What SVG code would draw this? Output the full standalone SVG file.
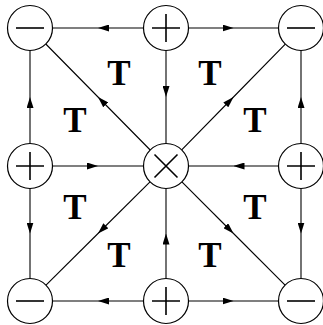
<svg xmlns="http://www.w3.org/2000/svg" width="323" height="325" viewBox="0 0 323 325">
<style>
.edge{fill:none;stroke:#000;stroke-width:1.1;marker-mid:url(#ah)}
.node circle{fill:#fff;stroke:#000;stroke-width:1.2}
.sym{stroke:#000;stroke-width:1.6;fill:none}
.t{font-family:"Liberation Serif",serif;font-weight:bold;font-size:35px;text-anchor:middle;fill:#000}
</style>
<defs>
<marker id="ah" viewBox="0 0 11 7" refX="11" refY="3.5" markerWidth="11" markerHeight="7" markerUnits="userSpaceOnUse" orient="auto">
<path d="M0,0 L11,3.5 L0,7 Z" fill="#000"/>
</marker>
</defs>
<rect width="323" height="325" fill="#fff"/>
<g id="connectors">
<path class="edge" d="M143.5,28 L98,28 L52.5,28"/>
<path class="edge" d="M188.5,28 L233.5,28 L278.5,28"/>
<path class="edge" d="M166,50.5 L166,97 L166,143.5"/>
<path class="edge" d="M30,143.5 L30,97 L30,50.5"/>
<path class="edge" d="M30,188.5 L30,233.5 L30,278.5"/>
<path class="edge" d="M52.5,166 L98,166 L143.5,166"/>
<path class="edge" d="M301,143.5 L301,97 L301,50.5"/>
<path class="edge" d="M301,188.5 L301,233.5 L301,278.5"/>
<path class="edge" d="M278.5,166 L233.5,166 L188.5,166"/>
<path class="edge" d="M143.5,301 L98,301 L52.5,301"/>
<path class="edge" d="M188.5,301 L233.5,301 L278.5,301"/>
<path class="edge" d="M166,278.5 L166,233.5 L166,188.5"/>
<path class="edge" d="M150.2,150 L98,97 L45.8,44"/>
<path class="edge" d="M181.7,149.9 L233.5,97 L285.3,44.1"/>
<path class="edge" d="M150,181.9 L98,233.5 L46,285.1"/>
<path class="edge" d="M181.9,181.9 L233.5,233.5 L285.1,285.1"/>
</g>
<g id="n-tl" class="node"><circle cx="30" cy="28" r="22.5"/><path class="sym" d="M16,28 H44"/></g>
<g id="n-tm" class="node"><circle cx="166" cy="28" r="22.5"/><path class="sym" d="M152,28 H180 M166,14 V42"/></g>
<g id="n-tr" class="node"><circle cx="301" cy="28" r="22.5"/><path class="sym" d="M287,28 H315"/></g>
<g id="n-ml" class="node"><circle cx="30" cy="166" r="22.5"/><path class="sym" d="M16,166 H44 M30,152 V180"/></g>
<g id="n-c" class="node"><circle cx="166" cy="166" r="22.5"/><path class="sym" d="M154.5,154.5 L177.5,177.5 M177.5,154.5 L154.5,177.5"/></g>
<g id="n-mr" class="node"><circle cx="301" cy="166" r="22.5"/><path class="sym" d="M287,166 H315 M301,152 V180"/></g>
<g id="n-bl" class="node"><circle cx="30" cy="301" r="22.5"/><path class="sym" d="M16,301 H44"/></g>
<g id="n-bm" class="node"><circle cx="166" cy="301" r="22.5"/><path class="sym" d="M152,301 H180 M166,287 V315"/></g>
<g id="n-br" class="node"><circle cx="301" cy="301" r="22.5"/><path class="sym" d="M287,301 H315"/></g>
<g id="labels">
<text class="t" x="119" y="84.5">T</text>
<text class="t" x="210" y="84.5">T</text>
<text class="t" x="75" y="131.5">T</text>
<text class="t" x="255" y="131.5">T</text>
<text class="t" x="75" y="218.5">T</text>
<text class="t" x="255" y="218.5">T</text>
<text class="t" x="119" y="266.5">T</text>
<text class="t" x="210" y="266.5">T</text>
</g>
</svg>
